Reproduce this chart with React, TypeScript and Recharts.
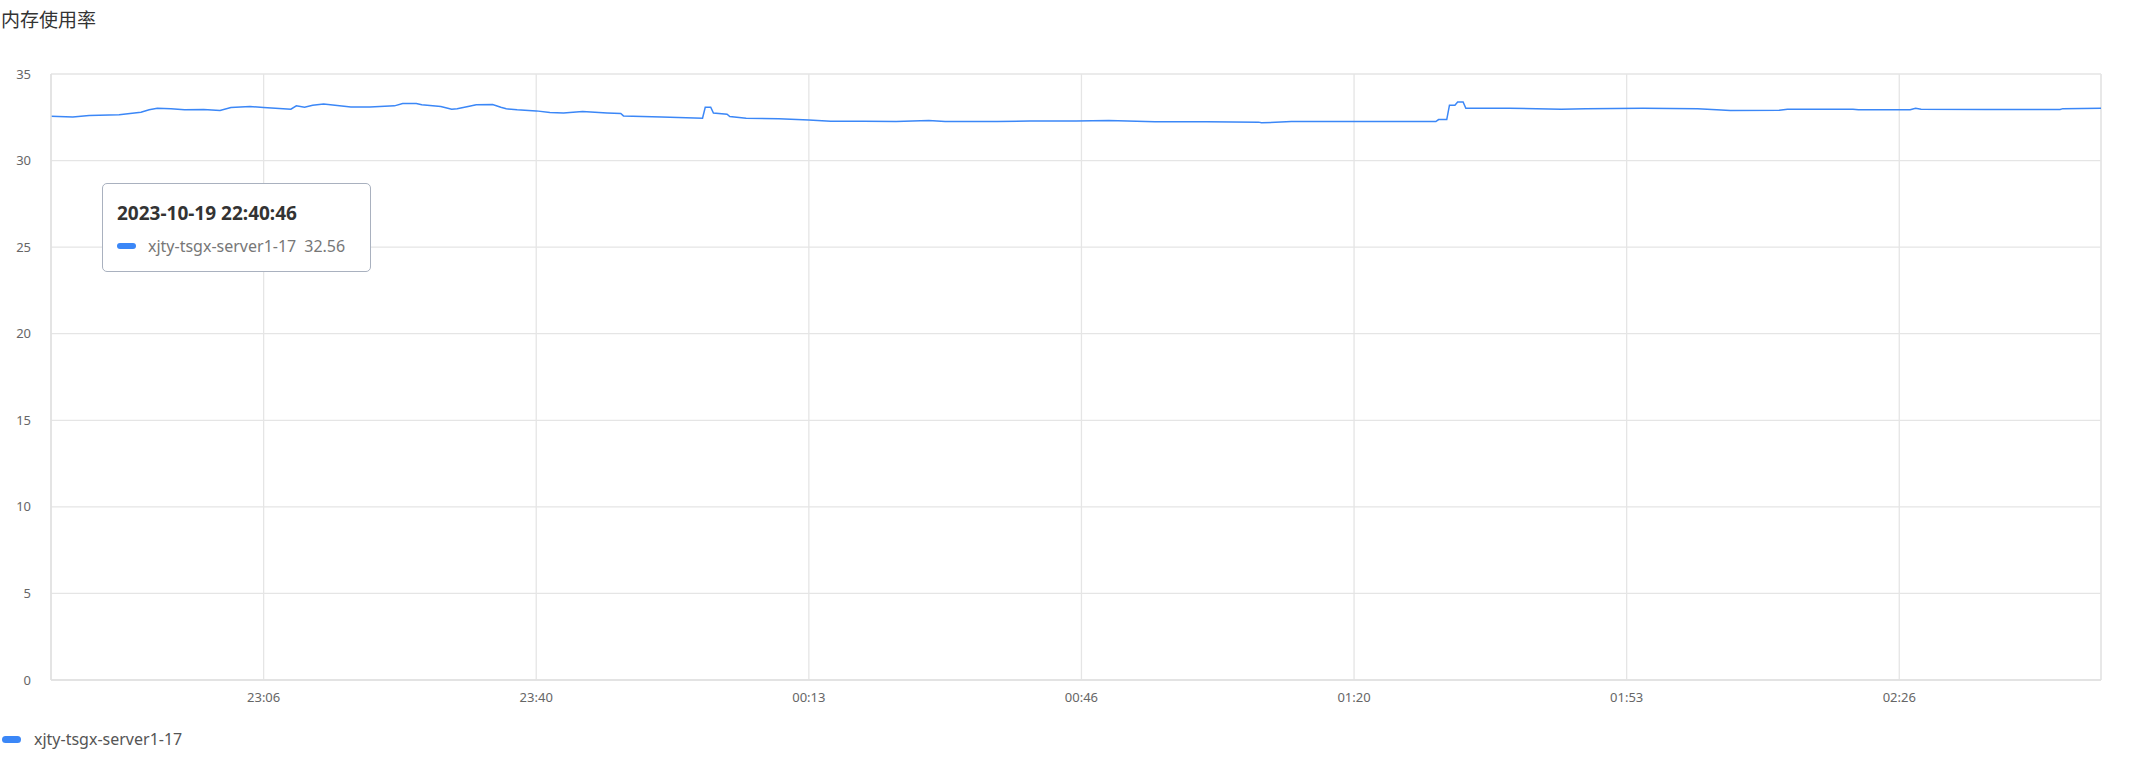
import { LineChart, Line, XAxis, YAxis, CartesianGrid, Tooltip, Legend, ReferenceLine } from "recharts";

const chartTitle = "内存使用率";
const seriesName = "xjty-tsgx-server1-17";
const startDate = "2023-10-19";

// sample times (HH:MM:SS) where the line changes
const sampleTimes = [
  "22:40:46", "22:43:26", "22:45:26", "22:49:06", "22:51:46", "22:52:46", "22:53:46", "22:55:26",
  "22:57:06", "22:59:26", "23:01:26", "23:02:46", "23:05:06", "23:06:46", "23:10:06", "23:10:46",
  "23:11:46", "23:12:46", "23:14:06", "23:15:46", "23:17:26", "23:19:46", "23:22:46", "23:23:46",
  "23:25:26", "23:26:06", "23:28:26", "23:29:46", "23:30:26", "23:31:46", "23:32:46", "23:34:46",
  "23:35:46", "23:36:26", "23:37:46", "23:40:06", "23:41:46", "23:43:26", "23:45:46", "23:48:46",
  "23:50:26", "23:50:46", "23:55:26", "00:00:26", "00:00:46", "00:01:26", "00:01:46", "00:03:26",
  "00:03:46", "00:05:46", "00:09:46", "00:13:26", "00:16:06", "00:20:06", "00:24:06", "00:28:06",
  "00:30:06", "00:36:26", "00:40:26", "00:46:06", "00:50:06", "00:55:46", "01:02:06", "01:08:26",
  "01:08:46", "01:12:26", "01:20:06", "01:26:46", "01:30:06", "01:30:26", "01:31:26", "01:31:46",
  "01:32:26", "01:32:46", "01:33:26", "01:33:46", "01:39:06", "01:45:26", "01:48:26", "01:55:26",
  "02:02:06", "02:04:26", "02:06:06", "02:12:06", "02:13:06", "02:21:06", "02:21:46", "02:28:06",
  "02:28:46", "02:29:26", "02:37:26", "02:46:26", "02:46:46", "02:51:26",
];

const memUsage = [
  32.56, 32.52, 32.61, 32.64, 32.79, 32.94, 33.02, 32.99,
  32.93, 32.95, 32.89, 33.06, 33.12, 33.06, 32.97, 33.16,
  33.08, 33.2, 33.26, 33.18, 33.1, 33.1, 33.16, 33.3,
  33.3, 33.22, 33.12, 32.97, 32.99, 33.12, 33.22, 33.24,
  33.08, 32.99, 32.93, 32.87, 32.77, 32.75, 32.83, 32.75,
  32.72, 32.58, 32.51, 32.45, 33.08, 33.08, 32.75, 32.68,
  32.54, 32.45, 32.41, 32.35, 32.27, 32.27, 32.25, 32.31,
  32.25, 32.25, 32.29, 32.29, 32.31, 32.24, 32.24, 32.22,
  32.18, 32.25, 32.25, 32.25, 32.25, 32.37, 32.37, 33.2,
  33.2, 33.38, 33.38, 33.02, 33.02, 32.97, 32.99, 33.02,
  32.99, 32.93, 32.89, 32.91, 32.97, 32.97, 32.93, 32.93,
  33.02, 32.97, 32.95, 32.95, 33.0, 33.02,
];

const xTickTimes = ["23:06:46", "23:40:06", "00:13:26", "00:46:46", "01:20:06", "01:53:26", "02:26:46"];
const yTicks = [0, 5, 10, 15, 20, 25, 30, 35];

const LINE_COLOR = "#3b87f7";
const GRID_COLOR = "#e5e5e5";

const toSec = (t: string) => {
  const [h, m, s] = t.split(":").map(Number);
  return h * 3600 + m * 60 + s;
};
const t0 = toSec(sampleTimes[0]);
const offsetOf = (t: string) => {
  let d = toSec(t) - t0;
  if (d < 0) d += 86400;
  return d;
};
const pad = (n: number) => String(n).padStart(2, "0");

const chartData = sampleTimes.map((t, i) => ({ time: t, sec: offsetOf(t), value: memUsage[i] }));
const xTicks = xTickTimes.map(offsetOf);
const xEnd = chartData[chartData.length - 1].sec;

const formatHM = (sec: number) => {
  const total = (t0 + sec) % 86400;
  return pad(Math.floor(total / 3600)) + ":" + pad(Math.floor((total % 3600) / 60));
};

function TipBox({ active, payload }: any) {
  if (!active || !payload || !payload.length) return null;
  const row = payload[0].payload;
  return (
    <div
      style={{
        width: 269,
        height: 89,
        boxSizing: "border-box",
        background: "#fff",
        border: "1.5px solid #a9b1bf",
        borderRadius: 5,
        padding: "16px 0 0 14px",
        fontFamily: "'Noto Sans', sans-serif",
      }}
    >
      <div style={{ fontSize: 19, fontWeight: 700, color: "#333", lineHeight: "26px" }}>
        {startDate} {row.time}
      </div>
      <div style={{ display: "flex", alignItems: "center", marginTop: 9, fontSize: 16, color: "#777", lineHeight: "22px" }}>
        <span style={{ width: 19, height: 6, borderRadius: 3, background: LINE_COLOR, marginRight: 12 }} />
        <span>{seriesName}</span>
        <span style={{ marginLeft: 8 }}>{row.value}</span>
      </div>
    </div>
  );
}

function LegendRow() {
  return (
    <div style={{ display: "flex", alignItems: "center", height: 20, fontSize: 16, color: "#555" }}>
      <span style={{ width: 19, height: 7, borderRadius: 4, background: LINE_COLOR, marginLeft: 2, marginRight: 13 }} />
      <span>{seriesName}</span>
    </div>
  );
}

export default function App() {
  return (
    <div style={{ position: "relative", width: 2146, height: 757, background: "#fff", fontFamily: "'Noto Sans', 'Noto Sans CJK SC', sans-serif" }}>
      <style>{"body{margin:0}"}</style>
      {/* Title */}
      <div style={{ position: "absolute", left: 1, top: 6, fontSize: 19, lineHeight: "26px", color: "#333", fontFamily: "'Noto Sans CJK SC', sans-serif" }}>
        {chartTitle}
      </div>

      <LineChart width={2146} height={757} data={chartData} margin={{ top: 74, right: 45, bottom: 27, left: 0 }}>
        <CartesianGrid stroke={GRID_COLOR} strokeWidth={1.3} />
        <XAxis
          dataKey="sec"
          type="number"
          domain={[0, xEnd]}
          ticks={xTicks}
          tickFormatter={formatHM}
          tickLine={false}
          axisLine={{ stroke: "#e0e0e0", strokeWidth: 1.5 }}
          tick={{ fill: "#666", fontSize: 13 }}
          tickMargin={7}
          height={30}
        />
        <YAxis
          domain={[0, 35]}
          ticks={yTicks}
          tickLine={false}
          axisLine={{ stroke: "#e0e0e0", strokeWidth: 1.5 }}
          tick={{ fill: "#666", fontSize: 13 }}
          tickMargin={14}
          width={51}
        />
        <ReferenceLine x={xEnd} stroke={GRID_COLOR} strokeWidth={1.3} />
        <Tooltip
          defaultIndex={0}
          active={true}
          cursor={false}
          isAnimationActive={false}
          position={{ x: 102, y: 183 }}
          wrapperStyle={{ outline: "none" }}
          content={<TipBox />}
        />
        <Legend verticalAlign="bottom" align="left" wrapperStyle={{ left: 0, bottom: 8, width: "auto" }} content={() => <LegendRow />} />
        <Line
          type="linear"
          dataKey="value"
          name={seriesName}
          stroke={LINE_COLOR}
          strokeWidth={1.5}
          dot={false}
          activeDot={false}
          isAnimationActive={false}
        />
      </LineChart>
    </div>
  );
}
